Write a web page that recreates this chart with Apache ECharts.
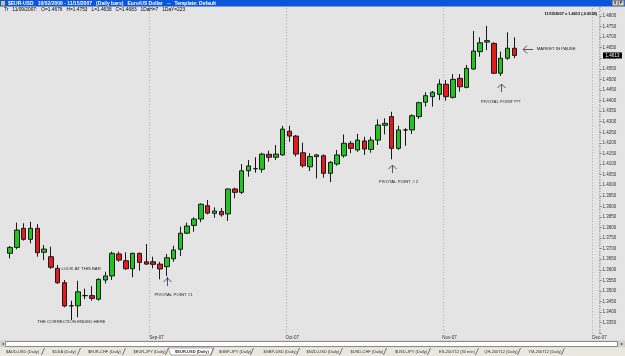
<!DOCTYPE html>
<html lang="en">
<head>
<meta charset="UTF-8">
<title>EUR-USD daily bars</title>
<script src="https://cdn.jsdelivr.net/npm/echarts@6/dist/echarts.min.js"></script>
<style>
  html, body { margin: 0; padding: 0; background: #e4e4e4; }
  #container { width: 625px; height: 356px; }
</style>
</head>
<body>
<div id="container"></div>
<script>
// trading days on screen, per month (Aug 3 .. Dec 3 2007)
var augDays = [3, 6, 7, 8, 9, 10, 13, 14, 15, 16, 17, 20, 21, 22, 23, 24, 27, 28, 29, 30, 31];
var sepDays = [3, 4, 5, 6, 7, 10, 11, 12, 13, 14, 17, 18, 19, 20, 21, 24, 25, 26, 27, 28];
var octDays = [1, 2, 3, 4, 5, 8, 9, 10, 11, 12, 15, 16, 17, 18, 19, 22, 23, 24, 25, 26, 29, 30, 31];
var novDays = [1, 2, 5, 6, 7, 8, 9, 12, 13, 14, 15, 16, 19, 20, 21, 22, 23, 26, 27, 28, 29, 30];
var decDays = [3];
var monthLabels = ['Aug-07', 'Sep-07', 'Oct-07', 'Nov-07', 'Dec-07'];

// daily OHLC
var opens = [1.3678, 1.3706, 1.3796, 1.3744, 1.3796, 1.3683, 1.3662, 1.3607, 1.3539, 1.3430,
  1.3430, 1.3478, 1.3478, 1.3461, 1.3552, 1.3571, 1.3675, 1.3643, 1.3605, 1.3678,
  1.3638, 1.3638, 1.3627, 1.3615, 1.3652, 1.3697, 1.3773, 1.3810, 1.3840, 1.3903,
  1.3867, 1.3876, 1.3864, 1.3982, 1.3966, 1.4068, 1.4078, 1.4075, 1.4146, 1.4132,
  1.4143, 1.4255, 1.4232, 1.4153, 1.4087, 1.4135, 1.4139, 1.4056, 1.4100, 1.4139,
  1.4198, 1.4166, 1.4209, 1.4169, 1.4213, 1.4283, 1.4324, 1.4174, 1.4261, 1.4261,
  1.4324, 1.4392, 1.4418, 1.4429, 1.4477, 1.4415, 1.4505, 1.4462, 1.4549, 1.4631,
  1.4676, 1.4670, 1.4529, 1.4600, 1.4647];
var closes = [1.3706, 1.3788, 1.3744, 1.3796, 1.3681, 1.3698, 1.3612, 1.3539, 1.3429, 1.3430,
  1.3496, 1.3478, 1.3465, 1.3555, 1.3571, 1.3678, 1.3646, 1.3605, 1.3678, 1.3635,
  1.3627, 1.3626, 1.3604, 1.3657, 1.3694, 1.3773, 1.3807, 1.3840, 1.3910, 1.3868,
  1.3878, 1.3860, 1.3982, 1.3966, 1.4068, 1.4091, 1.4078, 1.4147, 1.4132, 1.4147,
  1.4265, 1.4232, 1.4147, 1.4092, 1.4135, 1.4143, 1.4056, 1.4108, 1.4143, 1.4198,
  1.4174, 1.4213, 1.4171, 1.4213, 1.4284, 1.4292, 1.4174, 1.4261, 1.4261, 1.4328,
  1.4390, 1.4423, 1.4439, 1.4478, 1.4418, 1.4500, 1.4465, 1.4552, 1.4634, 1.4673,
  1.4683, 1.4529, 1.4600, 1.4647, 1.4613];
var lows = [1.3654, 1.3697, 1.3738, 1.3725, 1.3662, 1.3646, 1.3604, 1.3533, 1.3423, 1.3363,
  1.3376, 1.3461, 1.3454, 1.3454, 1.3536, 1.3552, 1.3638, 1.3599, 1.3565, 1.3596,
  1.3623, 1.3607, 1.3555, 1.3571, 1.3638, 1.3665, 1.3769, 1.3780, 1.3825, 1.3862,
  1.3846, 1.3851, 1.3831, 1.3938, 1.3958, 1.4040, 1.4059, 1.4059, 1.4111, 1.4119,
  1.4139, 1.4205, 1.4135, 1.4083, 1.4067, 1.4032, 1.4035, 1.4014, 1.4092, 1.4130,
  1.4151, 1.4158, 1.4143, 1.4153, 1.4190, 1.4240, 1.4122, 1.4166, 1.4186, 1.4242,
  1.4313, 1.4371, 1.4371, 1.4402, 1.4399, 1.4409, 1.4442, 1.4458, 1.4544, 1.4607,
  1.4638, 1.4525, 1.4516, 1.4592, 1.4600];
var highs = [1.3713, 1.3823, 1.3820, 1.3827, 1.3816, 1.3717, 1.3709, 1.3623, 1.3552, 1.3454,
  1.3548, 1.3511, 1.3523, 1.3560, 1.3591, 1.3686, 1.3686, 1.3683, 1.3681, 1.3681,
  1.3722, 1.3662, 1.3638, 1.3675, 1.3714, 1.3804, 1.3823, 1.3848, 1.3914, 1.3930,
  1.3895, 1.3892, 1.3985, 1.3988, 1.4100, 1.4119, 1.4132, 1.4153, 1.4163, 1.4190,
  1.4280, 1.4281, 1.4237, 1.4201, 1.4151, 1.4147, 1.4146, 1.4114, 1.4166, 1.4240,
  1.4209, 1.4243, 1.4229, 1.4229, 1.4311, 1.4316, 1.4347, 1.4281, 1.4269, 1.4335,
  1.4394, 1.4439, 1.4445, 1.4500, 1.4497, 1.4525, 1.4525, 1.4568, 1.4729, 1.4699,
  1.4753, 1.4675, 1.4631, 1.4722, 1.4699];

// notes drawn on the chart: [category index, price, text, align, pixel shift]
var notes = [
  [8, 1.3604, 'LOOK AT THIS BAR', 'left', -3],
  [9, 1.3355, 'THE CORRECTION ENDED HERE', 'center', 0],
  [24, 1.3484, 'PIVOTAL POINT #1', 'center', 0],
  [57, 1.4015, 'PIVOTAL POINT # 2', 'center', 0],
  [72, 1.4393, 'PIVOTAL POINT???', 'center', 0],
  [77, 1.4645, 'MARKET IN PAUSE', 'left', 2]
];
var upArrows = [[23, 1.3561], [56, 1.4095], [72, 1.4478]];
var leftArrows = [[75, 1.4645, 2]];

var tabNames = ['$AUD-USD (Daily)', '$DJIA (Daily)', '$EUR-CHF (Daily)', '$EUR-JPY (Daily)', '$EUR-USD (Daily)',
  '$GBP-JPY (Daily)', '$GBP-USD (Daily)', '$NZD-USD (Daily)', '$USD-CHF (Daily)', '$USD-JPY (Daily)',
  'ES-200712 (30 min)', 'QH-200712 (Daily)', 'YM-200712 (Daily)'];
var tabStarts = [2, 49, 85, 132, 172, 218, 262, 305, 349, 393, 437, 483, 527];
var tabEnds = [43, 79, 124, 167, 212, 252, 298, 341, 385, 429, 477, 519, 563];

var FONT = '"Liberation Sans", Arial, sans-serif';

// build categories; month label sits on the bar before the month starts
var dates = [];
var firstDay = {};
var labelAt = {};
[augDays, sepDays, octDays, novDays, decDays].forEach(function (days, m) {
  days.forEach(function (d, k) {
    if (k === 0 && m > 0) {
      firstDay[dates.length] = true;
      labelAt[dates.length - 1] = monthLabels[m];
    }
    dates.push('2007-' + (m + 8 < 10 ? '0' : '') + (m + 8) + '-' + (d < 10 ? '0' : '') + d);
  });
});

var candles = opens.map(function (o, i) {
  var item = { value: [o, closes[i], lows[i], highs[i]] };
  if (o === closes[i]) item.itemStyle = { borderColor: '#111', borderColor0: '#111' };
  return item;
});

var myChart = echarts.init(document.getElementById('container'));

myChart.setOption({
  animation: false,
  backgroundColor: '#e4e4e4',
  grid: { left: 6.6, right: 25.5, top: 5.3, bottom: 22.7 },
  xAxis: {
    type: 'category',
    data: dates,
    boundaryGap: true,
    axisLine: { show: false },
    axisTick: { show: false },
    axisLabel: {
      interval: 0,
      margin: 2,
      align: 'left',
      padding: [0, 0, 0, 3],
      fontSize: 4.5,
      fontFamily: FONT,
      color: '#333',
      formatter: function (v, i) { return labelAt[i] || ''; }
    },
    splitLine: {
      show: true,
      interval: function (i) { return firstDay[i] === true; },
      lineStyle: { color: '#a9a9a9', type: [1, 2], width: 1 }
    }
  },
  yAxis: {
    type: 'value',
    position: 'right',
    min: 1.330,
    max: 1.485,
    interval: 0.005,
    splitLine: { show: false },
    axisLine: { show: false },
    axisTick: { show: true, length: 2, lineStyle: { color: '#777' } },
    minorTick: { show: true, splitNumber: 5, length: 1, lineStyle: { color: '#999' } },
    axisLabel: {
      margin: 3,
      fontSize: 4.5,
      fontFamily: FONT,
      color: '#333',
      showMinLabel: false,
      showMaxLabel: false,
      formatter: function (v) { return v.toFixed(4); }
    }
  },
  series: [{
    type: 'candlestick',
    data: candles,
    barWidth: 5,
    itemStyle: {
      color: '#22c322',
      color0: '#e21c1c',
      borderColor: '#1a1a1a',
      borderColor0: '#1a1a1a',
      borderWidth: 1
    }
  }]
});

// --- window chrome and notes ---
function text(x, y, s, size, opt) {
  opt = opt || {};
  return {
    type: 'text', x: x, y: y, z: 100,
    style: {
      text: s, fill: opt.fill || '#111', align: opt.align || 'left', verticalAlign: 'middle',
      font: (opt.bold ? 'bold ' : '') + size + 'px ' + FONT
    }
  };
}
function line(points, color, z) {
  return { type: 'polyline', z: z || 100, shape: { points: points }, style: { stroke: color || '#444', fill: null, lineWidth: 1 } };
}
function rect(x, y, w, h, fill, stroke) {
  return { type: 'rect', z: 90, shape: { x: x, y: y, width: w, height: h }, style: { fill: fill, stroke: stroke || null, lineWidth: 1 } };
}
function px(i, p) { return myChart.convertToPixel({ gridIndex: 0 }, [i, p]); }

var g = [];
// title bar
g.push(rect(0, 0, 625, 6.5, '#0b55d8'));
g.push(rect(1, 1, 4, 4.5, '#d6c27a'));
g.push(text(8, 3.3, '$EUR-USD   10/02/2006 - 11/15/2007   (Daily bars)   Euro/US Dollar   --   Template: Default', 5, { fill: '#fff', bold: true }));
g.push(rect(612.5, 0.5, 5.5, 5, '#d8d8d8', '#888'));
g.push(rect(618.5, 0.5, 5.5, 5, '#d8d8d8', '#888'));
g.push(text(615.2, 3.2, '5', 4, { align: 'center', bold: true }));
g.push(text(621.2, 3.2, 'P', 4, { align: 'center', bold: true }));
// status line
g.push(text(4, 9.3, 'Tr   11/09/2007:   O=1.4676   H=1.4753   L=1.4638   C=1.4683   1DaH=7   1DaY=223', 4.8, { fill: '#000' }));
g.push(text(597, 13.8, '11/15/2007 = 1.4613 (-0.0038)', 3.9, { fill: '#000', bold: true, align: 'right' }));

// last price box on the axis
var last = px(opens.length - 1, closes[closes.length - 1]);
g.push(rect(603, last[1] - 3, 19, 6, '#000'));
g.push(text(612.5, last[1], closes[closes.length - 1].toFixed(4), 4.5, { fill: '#fff', align: 'center' }));

// notes and arrows, anchored to data
notes.forEach(function (n) {
  var p = px(n[0], n[1]);
  g.push(text(p[0] + n[4], p[1], n[2], 4.3, { align: n[3], fill: '#222' }));
});
upArrows.forEach(function (a) {
  var p = px(a[0], a[1]);
  var x = Math.round(p[0]) + 0.5, y = p[1];
  g.push(line([[x, y], [x, y + 8]], '#555'));
  g.push(line([[x - 4, y + 4], [x, y], [x + 4, y + 4]], '#555'));
});
leftArrows.forEach(function (a) {
  var p = px(a[0], a[1]);
  var x = p[0] + a[2], y = Math.round(p[1]) + 0.5;
  g.push(line([[x, y], [x + 10, y]], '#555'));
  g.push(line([[x + 4, y - 4], [x, y], [x + 4, y + 4]], '#555'));
});
// small blue marker under the pivot #1 bar
var mk = px(23, 1.3571);
g.push(line([[Math.round(mk[0]) + 0.5, mk[1] + 1], [Math.round(mk[0]) + 0.5, mk[1] + 5]], '#1c2fd0'));

// scroll bar
g.push(rect(0, 340.5, 625, 7, '#d4d0c8'));
g.push(rect(5.5, 341.5, 612, 5, '#ffffff', '#8a8a8a'));
g.push(text(2.5, 344, '◂', 4, { align: 'center', fill: '#333' }));
g.push(text(621.5, 344, '▸', 4, { align: 'center', fill: '#333' }));

// sheet tabs
g.push(rect(0, 347.5, 625, 8.5, '#e9e7de'));
g.push({ type: 'polygon', z: 95, shape: { points: [[168, 348], [214, 348], [211, 355], [171, 355]] }, style: { fill: '#ffffff', stroke: '#777', lineWidth: 0.6 } });
tabNames.forEach(function (t, i) {
  g.push(text((tabStarts[i] + tabEnds[i]) / 2, 351.5, t, 4, { align: 'center', fill: '#333', bold: i === 4 }));
  g.push(line([[tabEnds[i] - 1.5, 355], [tabEnds[i] + 1.5, 348]], '#777'));
});

myChart.setOption({ graphic: g });
</script>
</body>
</html>
